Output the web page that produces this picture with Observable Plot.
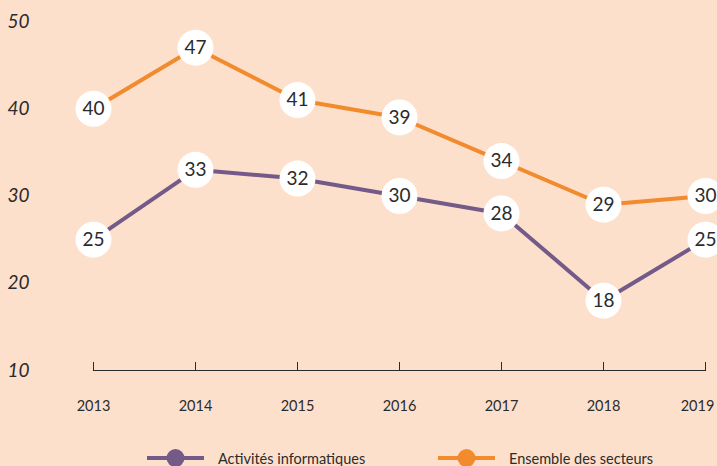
<!DOCTYPE html>
<html><head><meta charset="utf-8">
<script src="https://cdn.jsdelivr.net/npm/d3@7"></script>
<script src="https://cdn.jsdelivr.net/npm/@observablehq/plot@0.6"></script>
<style>
html,body{margin:0;padding:0;background:#fde0cb;overflow:hidden;}
#wrap{position:relative;width:717px;height:466px;background:#fde0cb;font-family:Lato,"Open Sans",sans-serif;}
.leg{position:absolute;top:447px;display:flex;align-items:center;font-size:14.5px;color:#2b2b2b;}
.leg svg{margin-right:14px;}
</style>
</head><body><div id="wrap"></div>
<script>
const years = [2013, 2014, 2015, 2016, 2017, 2018, 2019];
const informatique = [25, 33, 32, 30, 28, 18, 25];
const ensemble = [40, 47, 41, 39, 34, 29, 30];
const yTicks = [10, 20, 30, 40, 50];
const seriesNames = ["Activités informatiques", "Ensemble des secteurs"];
const seriesColors = ["#735a88", "#f28a2e"];

const rows = [];
years.forEach((y, i) => {
  rows.push({year: y, value: informatique[i], s: seriesNames[0]});
  rows.push({year: y, value: ensemble[i], s: seriesNames[1]});
});

const chart = Plot.plot({
  width: 717, height: 440,
  marginLeft: 93, marginRight: 12, marginTop: 21, marginBottom: 70,
  style: {background: "transparent", fontFamily: "Lato, 'Open Sans', sans-serif", color: "#2b2b2b"},
  x: {domain: [2013, 2019]},
  y: {domain: [10, 50]},
  color: {domain: seriesNames, range: seriesColors},
  marks: [
    Plot.axisY({ticks: yTicks, tickSize: 0, textAnchor: "start", dx: -77, fontSize: 19, fontStyle: "italic", label: null, fill: "#2b2b2b"}),
    Plot.axisX({ticks: years, tickSize: -8, text: null, label: null, stroke: "#2b2b2b"}),
    Plot.axisX({ticks: years.slice(0, -1), tickSize: 0, tickPadding: 30, tickFormat: d => String(d), fontSize: 14.5, label: null, fill: "#2b2b2b"}),
    Plot.axisX({ticks: years.slice(-1), tickSize: 0, tickPadding: 30, dx: -8, tickFormat: d => String(d), fontSize: 14.5, label: null, fill: "#2b2b2b"}),
    Plot.frame({anchor: "bottom", stroke: "#2b2b2b", strokeWidth: 1.2}),
    Plot.line(rows, {x: "year", y: "value", z: "s", stroke: "s", strokeWidth: 4}),
    Plot.dot(rows, {x: "year", y: "value", r: 18, fill: "white", stroke: null}),
    Plot.text(rows, {x: "year", y: "value", text: d => String(d.value), fontSize: 19, fill: "#2b2b2b"})
  ]
});
const wrap = document.getElementById("wrap");
wrap.appendChild(chart);

const lefts = [147, 438];
seriesNames.forEach((name, i) => {
  const div = document.createElement("div");
  div.className = "leg";
  div.style.left = lefts[i] + "px";
  div.innerHTML = `<svg width="57" height="22"><line x1="0" y1="11" x2="57" y2="11" stroke="${seriesColors[i]}" stroke-width="4"/><circle cx="28.5" cy="11" r="9" fill="${seriesColors[i]}"/></svg><span>${name}</span>`;
  wrap.appendChild(div);
});
</script></body></html>
